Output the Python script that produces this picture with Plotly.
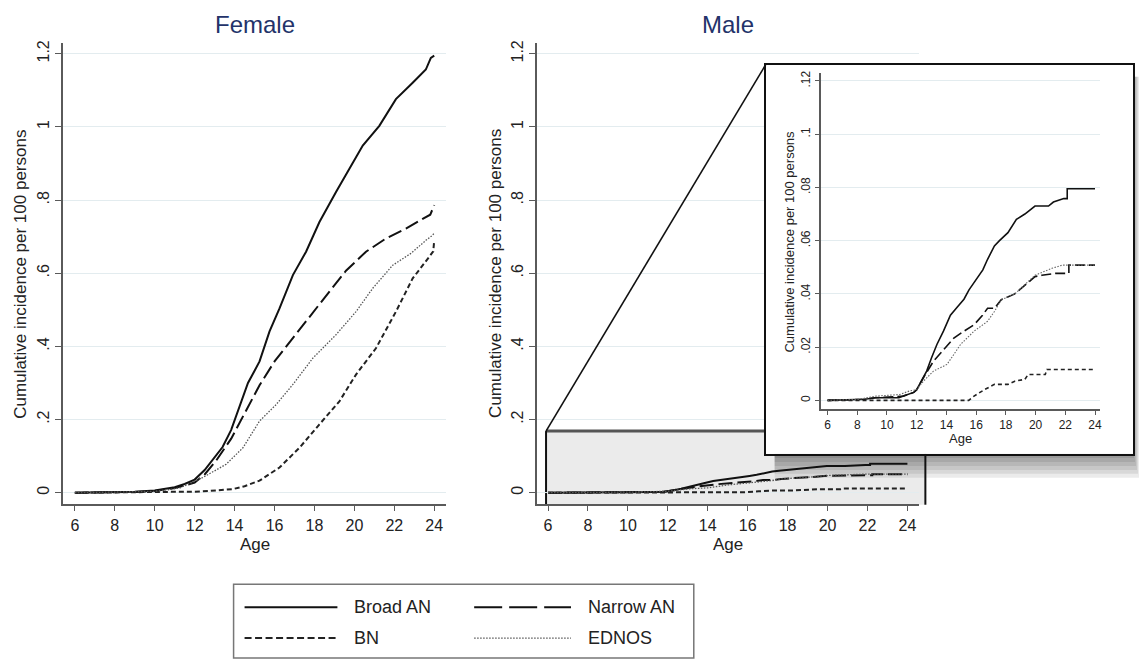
import plotly.graph_objects as go

W, H = 1141, 663
FONT = "Liberation Sans, Arial, sans-serif"

series_names = ["Broad AN", "Narrow AN", "BN", "EDNOS"]

# ---------------- Female: cumulative incidence per 100 persons ----------------
f_broad_age = [6, 8, 9, 10, 10.5, 11, 11.5, 12, 12.5, 13, 13.4, 13.83, 14.25, 14.67, 15.25,
               15.75, 16.25, 16.92, 17.58, 18.25, 19.08, 19.75, 20.42, 21.25, 22.08, 22.92,
               23.58, 23.83, 24]
f_broad_val = [0, 0.001, 0.003, 0.006, 0.010, 0.015, 0.024, 0.036, 0.062, 0.097, 0.125, 0.172,
               0.236, 0.300, 0.359, 0.441, 0.504, 0.595, 0.659, 0.740, 0.822, 0.885, 0.949,
               1.003, 1.076, 1.121, 1.157, 1.189, 1.195]

f_narrow_age = [6, 8, 9, 10, 10.5, 11, 11.5, 12, 12.5, 13.08, 13.83, 14.58, 15.25, 16, 16.92,
                17.92, 18.75, 19.58, 20.58, 21.58, 22.58, 23.42, 23.8, 24]
f_narrow_val = [0, 0.001, 0.002, 0.005, 0.008, 0.013, 0.020, 0.028, 0.050, 0.088, 0.148, 0.226,
                0.294, 0.359, 0.423, 0.495, 0.550, 0.607, 0.659, 0.695, 0.722, 0.749, 0.760, 0.786]

f_bn_age = [6, 10, 11, 12, 12.75, 13.92, 14.5, 15.25, 16.25, 17.25, 18.25, 19.25, 20.08, 21.08,
            22.08, 22.92, 23.75, 23.95, 24]
f_bn_val = [0, 0.001, 0.002, 0.003, 0.005, 0.010, 0.018, 0.033, 0.069, 0.123, 0.187, 0.250,
            0.323, 0.395, 0.495, 0.586, 0.645, 0.660, 0.690]

f_ednos_age = [6, 8, 9, 10, 10.5, 11.25, 12.42, 13.58, 14.42, 15.25, 16.08, 16.92, 17.92, 19.08,
               20.08, 20.92, 21.92, 22.85, 23.58, 23.92, 24]
f_ednos_val = [0, 0.001, 0.002, 0.004, 0.007, 0.013, 0.042, 0.078, 0.123, 0.196, 0.241, 0.296,
               0.368, 0.432, 0.495, 0.559, 0.622, 0.655, 0.690, 0.704, 0.710]

# ---------------- Male: cumulative incidence per 100 persons ----------------
m_broad_age = [6, 8.5, 9.2, 10.8, 11.1, 11.4, 11.8, 12.0, 12.3, 12.67, 13.0, 13.36, 13.8, 14.27,
               14.72, 15.18, 15.52, 16.09, 16.45, 16.77, 17.23, 17.57, 18.14, 18.71, 19.28, 19.96,
               20.87, 21.2, 21.9, 22.13, 22.13, 24]
m_broad_val = [0, 0.0004, 0.001, 0.001, 0.0016, 0.0022, 0.003, 0.004, 0.007, 0.011, 0.016, 0.021,
               0.026, 0.032, 0.035, 0.038, 0.0415, 0.046, 0.049, 0.053, 0.058, 0.060, 0.063, 0.068,
               0.070, 0.073, 0.073, 0.0745, 0.0758, 0.0758, 0.0795, 0.0795]

m_narrow_age = [6, 8.5, 9.2, 11.1, 11.4, 11.8, 12.0, 12.45, 13.13, 13.7, 14.5, 15.18, 15.86, 16.43,
                16.77, 17.23, 17.69, 18.6, 19.28, 19.96, 20.42, 21.33, 22.01, 22.24, 22.24, 24]
m_narrow_val = [0, 0.0004, 0.001, 0.0016, 0.0022, 0.003, 0.004, 0.0085, 0.0147, 0.0185, 0.0234,
                0.026, 0.0284, 0.032, 0.0346, 0.0346, 0.0378, 0.040, 0.0434, 0.0465, 0.047, 0.0477,
                0.0477, 0.0477, 0.0508, 0.0508]

m_bn_age = [6, 15.5, 15.86, 16.55, 17.23, 18.14, 18.6, 19.28, 19.5, 20.65, 20.76, 24]
m_bn_val = [0, 0, 0.0016, 0.004, 0.006, 0.006, 0.0072, 0.0079, 0.0097, 0.0097, 0.0116, 0.0116]

m_ednos_age = [6, 8.1, 9.26, 10.85, 11.5, 12.0, 12.45, 13.13, 14.04, 14.95, 15.86, 16.77, 17.23,
               17.69, 18.6, 19.28, 19.96, 21.1, 21.8, 24]
m_ednos_val = [0, 0.0004, 0.0016, 0.0022, 0.0035, 0.004, 0.0072, 0.011, 0.0135, 0.021, 0.026,
               0.0297, 0.0334, 0.0378, 0.040, 0.0434, 0.047, 0.0496, 0.0508, 0.0508]

# ---------------- Ticks ----------------
age_ticks = [6, 8, 10, 12, 14, 16, 18, 20, 22, 24]
age_ticktext = ["6", "8", "10", "12", "14", "16", "18", "20", "22", "24"]
main_y_ticks = [0, 0.2, 0.4, 0.6, 0.8, 1.0, 1.2]
main_y_ticktext = ["0", ".2", ".4", ".6", ".8", "1", "1.2"]
inset_y_ticks = [0, 0.02, 0.04, 0.06, 0.08, 0.10, 0.12]
inset_y_ticktext = ["0", ".02", ".04", ".06", ".08", ".1", ".12"]

female = [(f_broad_age, f_broad_val), (f_narrow_age, f_narrow_val),
          (f_bn_age, f_bn_val), (f_ednos_age, f_ednos_val)]
male = [(m_broad_age, m_broad_val), (m_narrow_age, m_narrow_val),
        (m_bn_age, m_bn_val), (m_ednos_age, m_ednos_val)]

styles = {
    "Broad AN": dict(color="#111111", width=2, dash="solid"),
    "Narrow AN": dict(color="#111111", width=2, dash="14px,5px"),
    "BN": dict(color="#222222", width=2, dash="5px,3px"),
    "EDNOS": dict(color="#555555", width=1.3, dash="1.5px,1.5px"),
}
inset_styles = {
    "Broad AN": dict(color="#111111", width=1.6, dash="solid"),
    "Narrow AN": dict(color="#111111", width=1.6, dash="10px,4px"),
    "BN": dict(color="#222222", width=1.6, dash="4px,3px"),
    "EDNOS": dict(color="#666666", width=1.1, dash="1.5px,1.5px"),
}


def fx(p):
    return p / W


def fy(p):
    return 1 - p / H


fig = go.Figure()

for name, (a, v) in zip(series_names, female):
    fig.add_trace(go.Scatter(x=a, y=v, mode="lines", name=name, line=styles[name],
                             xaxis="x", yaxis="y", showlegend=False))
for name, (a, v) in zip(series_names, male):
    fig.add_trace(go.Scatter(x=a, y=v, mode="lines", name=name, line=styles[name],
                             xaxis="x2", yaxis="y2", showlegend=False))
# empty subplot used as the white inset panel
fig.add_trace(go.Scatter(x=[], y=[], xaxis="x3", yaxis="y3", showlegend=False, hoverinfo="skip"))
for name, (a, v) in zip(series_names, male):
    fig.add_trace(go.Scatter(x=a, y=v, mode="lines", name=name, line=inset_styles[name],
                             xaxis="x4", yaxis="y4", showlegend=False))

AX = "#5a5a5a"
GRID = "#e3ecef"


def xax(domain, rng, anchor, fsize=16, ticklen=6):
    return dict(domain=domain, range=rng, anchor=anchor, tickmode="array", tickvals=age_ticks,
                ticktext=age_ticktext, ticks="outside", ticklen=ticklen, tickwidth=1.2,
                tickcolor=AX, showline=True, linecolor=AX, linewidth=1.5, showgrid=False,
                zeroline=False, tickfont=dict(size=fsize, color="#222", family=FONT),
                fixedrange=True)


def yax(domain, rng, anchor, tv, tt, fsize=16, ticklen=6):
    return dict(domain=domain, range=rng, anchor=anchor, tickmode="array", tickvals=tv,
                ticktext=tt, ticks="outside", ticklen=ticklen, tickwidth=1.2, tickcolor=AX,
                showline=True, linecolor=AX, linewidth=1.5, showgrid=True, gridcolor=GRID,
                gridwidth=1, zeroline=False, tickangle=-90,
                tickfont=dict(size=fsize, color="#222", family=FONT), fixedrange=True)


main_ydom = [fy(503), fy(40)]
layout = dict(
    width=W, height=H, margin=dict(l=0, r=0, t=0, b=0),
    paper_bgcolor="white", plot_bgcolor="white", showlegend=False,
    font=dict(family=FONT, color="#222"),
    xaxis=xax([fx(63), fx(447)], [5.4, 24.6], "y"),
    yaxis=yax(main_ydom, [-0.03, 1.23], "x", main_y_ticks, main_y_ticktext),
    xaxis2=xax([fx(538), fx(921)], [5.45, 24.6], "y2"),
    yaxis2=yax(main_ydom, [-0.03, 1.23], "x2", main_y_ticks, main_y_ticktext),
    xaxis3=dict(domain=[fx(767), fx(1135)], range=[0, 1], anchor="y3", showgrid=False,
                zeroline=False, showticklabels=False, ticks="", showline=True, mirror=True,
                linecolor="#111", linewidth=2, fixedrange=True),
    yaxis3=dict(domain=[fy(453), fy(62)], range=[0, 1], anchor="x3", showgrid=False,
                zeroline=False, showticklabels=False, ticks="", showline=True, mirror=True,
                linecolor="#111", linewidth=2, fixedrange=True),
    xaxis4=xax([fx(822), fx(1102)], [5.53, 24.34], "y4", fsize=12, ticklen=4),
    yaxis4=yax([fy(408), fy(70)], [-0.0033, 0.1231], "x4", inset_y_ticks, inset_y_ticktext,
               fsize=12, ticklen=4),
)
fig.update_layout(**layout)

shapes = []
# zoom rectangle on the male panel
shapes.append(dict(type="rect", xref="paper", yref="paper", x0=fx(547), x1=fx(927),
                   y0=fy(504), y1=fy(430), fillcolor="#ebebeb", line=dict(width=0),
                   layer="below"))
# drop shadow of the inset
for k in range(1, 7):
    shapes.append(dict(type="rect", xref="paper", yref="paper", x0=fx(776), x1=fx(1135 + k),
                       y0=fy(453 + 4 * k), y1=fy(74), fillcolor="rgba(0,0,0,0.08)",
                       line=dict(width=0), layer="below"))
shapes.append(dict(type="line", xref="paper", yref="paper", x0=fx(547), x1=fx(927),
                   y0=fy(430), y1=fy(430), line=dict(color="#555", width=3), layer="below"))
shapes.append(dict(type="line", xref="paper", yref="paper", x0=fx(547), x1=fx(547),
                   y0=fy(430), y1=fy(504), line=dict(color="#111", width=2), layer="below"))
shapes.append(dict(type="line", xref="paper", yref="paper", x0=fx(927), x1=fx(927),
                   y0=fy(430), y1=fy(504), line=dict(color="#111", width=2), layer="below"))
# connector from zoom rectangle to inset
shapes.append(dict(type="line", xref="paper", yref="paper", x0=fx(547), x1=fx(767),
                   y0=fy(430), y1=fy(62), line=dict(color="#111", width=1.6), layer="above"))

# legend box
shapes.append(dict(type="rect", xref="paper", yref="paper", x0=fx(234), x1=fx(695),
                   y0=fy(658), y1=fy(584), line=dict(color="#777", width=1.5),
                   fillcolor="rgba(0,0,0,0)", layer="above"))
legend_dash = {"Broad AN": "solid", "Narrow AN": "28px,7px", "BN": "7px,3.5px",
               "EDNOS": "1.5px,1.5px"}
legend_pos = {"Broad AN": (245, 338, 607), "Narrow AN": (475, 572, 607),
              "BN": (245, 338, 638), "EDNOS": (475, 572, 638)}
annotations = []
for name in series_names:
    x0, x1, yy = legend_pos[name]
    st = styles[name]
    shapes.append(dict(type="line", xref="paper", yref="paper", x0=fx(x0), x1=fx(x1),
                       y0=fy(yy), y1=fy(yy),
                       line=dict(color=st["color"], width=st["width"], dash=legend_dash[name]),
                       layer="above"))
    annotations.append(dict(text=name, xref="paper", yref="paper", x=fx(x1 + 15), y=fy(yy),
                            xanchor="left", yanchor="middle", showarrow=False,
                            font=dict(size=18, color="#222", family=FONT)))

# panel titles
TITLE_C = "#23336a"
annotations.append(dict(text="Female", xref="paper", yref="paper", x=fx(255), y=fy(22),
                        xanchor="center", yanchor="middle", showarrow=False,
                        font=dict(size=24, color=TITLE_C, family=FONT)))
annotations.append(dict(text="Male", xref="paper", yref="paper", x=fx(729), y=fy(22),
                        xanchor="center", yanchor="middle", showarrow=False,
                        font=dict(size=24, color=TITLE_C, family=FONT)))
# axis titles
ytitle = "Cumulative incidence per 100 persons"
for xc, yc, fs in [(21, 272, 17), (497, 272, 17), (791, 240, 13)]:
    annotations.append(dict(text=ytitle, xref="paper", yref="paper", x=fx(xc), y=fy(yc),
                            xanchor="center", yanchor="middle", textangle=-90, showarrow=False,
                            font=dict(size=fs, color="#222", family=FONT)))
for xc, yc, fs in [(255, 544, 17), (729, 544, 17), (962, 437, 13)]:
    annotations.append(dict(text="Age", xref="paper", yref="paper", x=fx(xc), y=fy(yc),
                            xanchor="center", yanchor="middle", showarrow=False,
                            font=dict(size=fs, color="#222", family=FONT)))

fig.update_layout(shapes=shapes, annotations=annotations)

fig.write_html("out.html", include_plotlyjs=True, full_html=True,
               config={"displayModeBar": False},
               post_script="document.body.style.margin='0';")
